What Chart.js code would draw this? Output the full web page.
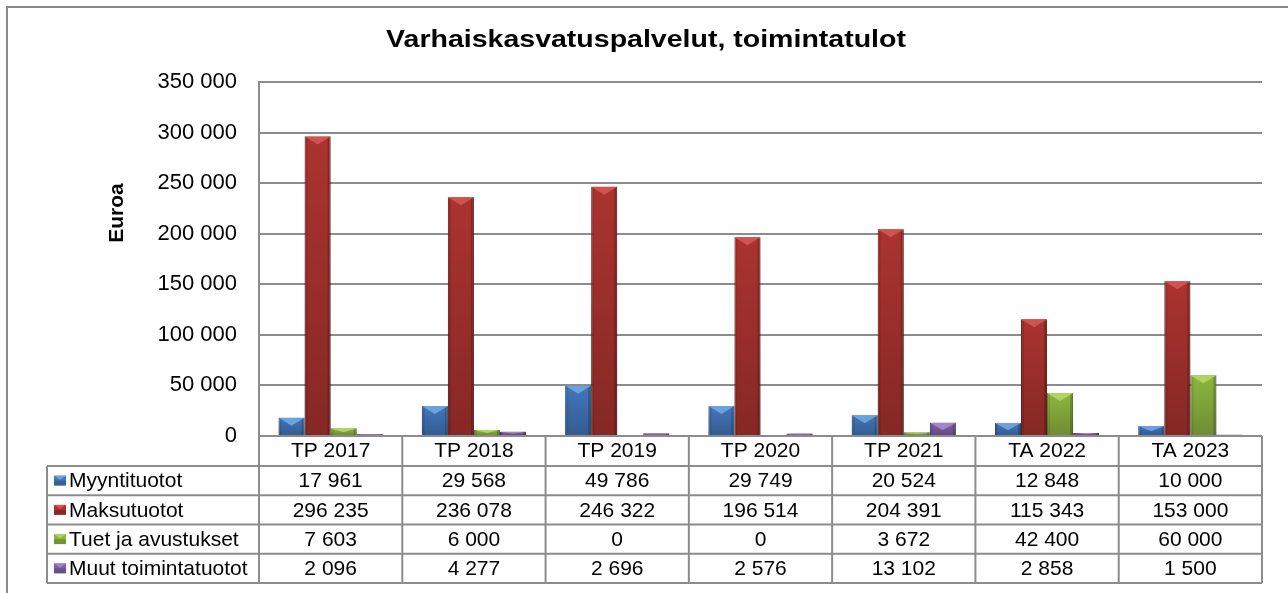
<!DOCTYPE html>
<html><head><meta charset="utf-8">
<script src="https://cdn.jsdelivr.net/npm/chart.js@4.4.0/dist/chart.umd.min.js"></script>
<style>html,body{margin:0;padding:0;background:#fff}#wrap{width:1288px;height:593px;position:relative}</style>
</head><body><div id="wrap"><canvas id="c" width="1288" height="593"></canvas></div>
<script>
const chartTitle = 'Varhaiskasvatuspalvelut, toimintatulot';
const yTitle = 'Euroa';
const categories = ['TP 2017','TP 2018','TP 2019','TP 2020','TP 2021','TA 2022','TA 2023'];
const seriesNames = ['Myyntituotot','Maksutuotot','Tuet ja avustukset','Muut toimintatuotot'];
const myyntituotot = [17961,29568,49786,29749,20524,12848,10000];
const maksutuotot = [296235,236078,246322,196514,204391,115343,153000];
const tuetJaAvustukset = [7603,6000,0,0,3672,42400,60000];
const muutToimintatuotot = [2096,4277,2696,2576,13102,2858,1500];
const yMin = 0, yMax = 350000, yStep = 50000;

const seriesData = [myyntituotot, maksutuotot, tuetJaAvustukset, muutToimintatuotot];
const baseColors = ['#4276bb','#ab332f','#8db540','#7f60a9'];
const lightColors = ['#6ba2dc','#d0534f','#afd463','#a186c9'];
const darkColors = ['#2d5a93','#88231f','#6c8d2b','#5e4386'];

const FONT = '"Liberation Sans", Arial, sans-serif';
const fmt = v => String(v).replace(/\B(?=(\d{3})+(?!\d))/g, ' ');

const decorPlugin = {
  id:'decor',
  beforeDraw(chart){
    const ctx = chart.ctx;
    ctx.save();
    ctx.fillStyle='#fff';
    ctx.fillRect(0,0,chart.width,chart.height);
    ctx.strokeStyle='#8a8a8a';
    ctx.lineWidth=2;
    ctx.strokeRect(7,7,chart.width+20,chart.height+20);
    // title (stretched like the reference)
    ctx.fillStyle='#000';
    ctx.font='bold 23px '+FONT;
    ctx.textAlign='center';
    ctx.textBaseline='middle';
    ctx.translate(646, 41);
    ctx.scale(1.24, 1);
    ctx.fillText(chartTitle, 0, 0);
    ctx.restore();
    // y axis title
    ctx.save();
    ctx.fillStyle='#000';
    ctx.font='bold 21px '+FONT;
    ctx.textAlign='center';
    ctx.textBaseline='middle';
    ctx.translate(117, 213);
    ctx.rotate(-Math.PI/2);
    ctx.fillText(yTitle, 0, 0);
    ctx.restore();
  },
  afterDatasetsDraw(chart){
    const ctx = chart.ctx;
    ctx.save();
    chart.data.datasets.forEach((ds, di)=>{
      const meta = chart.getDatasetMeta(di);
      meta.data.forEach(el=>{
        const p = el.getProps(['x','y','base','width'], true);
        const l = p.x - p.width/2, r = p.x + p.width/2, t = p.y, b = p.base;
        const h = b - t;
        if (h < 1) return;
        const g = ctx.createLinearGradient(0, t, 0, b);
        g.addColorStop(0, 'rgba(0,0,0,0)');
        g.addColorStop(1, 'rgba(0,0,0,0.22)');
        ctx.fillStyle = g;
        ctx.fillRect(l, t, p.width, h);
        const bv = Math.min(8, h*0.6);
        ctx.fillStyle='rgba(0,0,0,0.10)';
        ctx.fillRect(l, t, 3, h);
        ctx.fillStyle='rgba(0,0,0,0.20)';
        ctx.fillRect(r-3, t, 3, h);
        ctx.beginPath();
        ctx.moveTo(l, t); ctx.lineTo(r, t); ctx.lineTo(p.x, t+bv); ctx.closePath();
        ctx.fillStyle=lightColors[di];
        ctx.fill();
      });
    });
    ctx.restore();
  },
  afterDraw(chart){
    const ctx = chart.ctx;
    const xs = chart.scales.x;
    const area = chart.chartArea;
    const n = categories.length;
    const band = (area.right - area.left) / n;
    const headTop = area.bottom, rowTop = 466, rowH = 29.25, tableLeft = 47;
    const tableBottom = rowTop + rowH * seriesNames.length;
    ctx.save();
    ctx.strokeStyle='#8c8c8c';
    ctx.lineWidth=2;
    ctx.beginPath();
    ctx.moveTo(area.left, headTop); ctx.lineTo(area.right, headTop);
    for (let r=0; r<=seriesNames.length; r++){
      const y = rowTop + r*rowH;
      ctx.moveTo(tableLeft, y); ctx.lineTo(area.right, y);
    }
    for (let i=0; i<=n; i++){
      const x = (i<n ? xs.getPixelForValue(i) - band/2 : xs.getPixelForValue(n-1) + band/2);
      ctx.moveTo(x, headTop); ctx.lineTo(x, tableBottom);
    }
    ctx.moveTo(tableLeft, rowTop); ctx.lineTo(tableLeft, tableBottom);
    ctx.stroke();

    ctx.font='21px '+FONT;
    ctx.textBaseline='middle';
    seriesNames.forEach((name, si)=>{
      const cy = rowTop + si*rowH + rowH/2;
      const kx = 54, ky = cy - 5, kw = 12, kh = 10;
      ctx.fillStyle = baseColors[si];
      ctx.fillRect(kx, ky, kw, kh);
      ctx.fillStyle = 'rgba(0,0,0,0.18)';
      ctx.fillRect(kx, ky+kh/2, kw, kh/2);
      ctx.beginPath();
      ctx.moveTo(kx, ky); ctx.lineTo(kx+kw, ky); ctx.lineTo(kx+kw/2, ky+4); ctx.closePath();
      ctx.fillStyle = lightColors[si]; ctx.fill();
      ctx.fillStyle='#000';
      ctx.textAlign='left';
      ctx.fillText(name, 69, cy+1);
      ctx.textAlign='center';
      seriesData[si].forEach((v, ci)=>{
        ctx.fillText(fmt(v), xs.getPixelForValue(ci), cy+1);
      });
    });
    ctx.restore();
  }
};

new Chart(document.getElementById('c'), {
  type:'bar',
  data:{
    labels:categories,
    datasets: seriesNames.map((name,i)=>({
      label:name,
      data:seriesData[i],
      backgroundColor: baseColors[i],
      borderColor: darkColors[i],
      borderWidth: 1,
      categoryPercentage: 0.727,
      barPercentage: 1
    }))
  },
  options:{
    responsive:false,
    animation:false,
    devicePixelRatio:1,
    layout:{padding:{top:82,right:26,bottom:10,left:0}},
    plugins:{legend:{display:false},title:{display:false},tooltip:{enabled:false}},
    scales:{
      x:{
        grid:{display:false, drawTicks:false},
        border:{display:false},
        ticks:{font:{family:FONT,size:21},color:'#000',padding:3,maxRotation:0},
        afterFit(s){ s.height = 147; }
      },
      y:{
        min:yMin, max:yMax,
        ticks:{stepSize:yStep, callback:v=>fmt(v), font:{family:FONT,size:22}, color:'#000', padding:22},
        grid:{color:'#8c8c8c', lineWidth:2, drawTicks:false},
        border:{display:true, color:'#8c8c8c', width:2},
        title:{display:false},
        afterFit(s){ s.width = 259; }
      }
    }
  },
  plugins:[decorPlugin]
});
</script>
</body></html>
